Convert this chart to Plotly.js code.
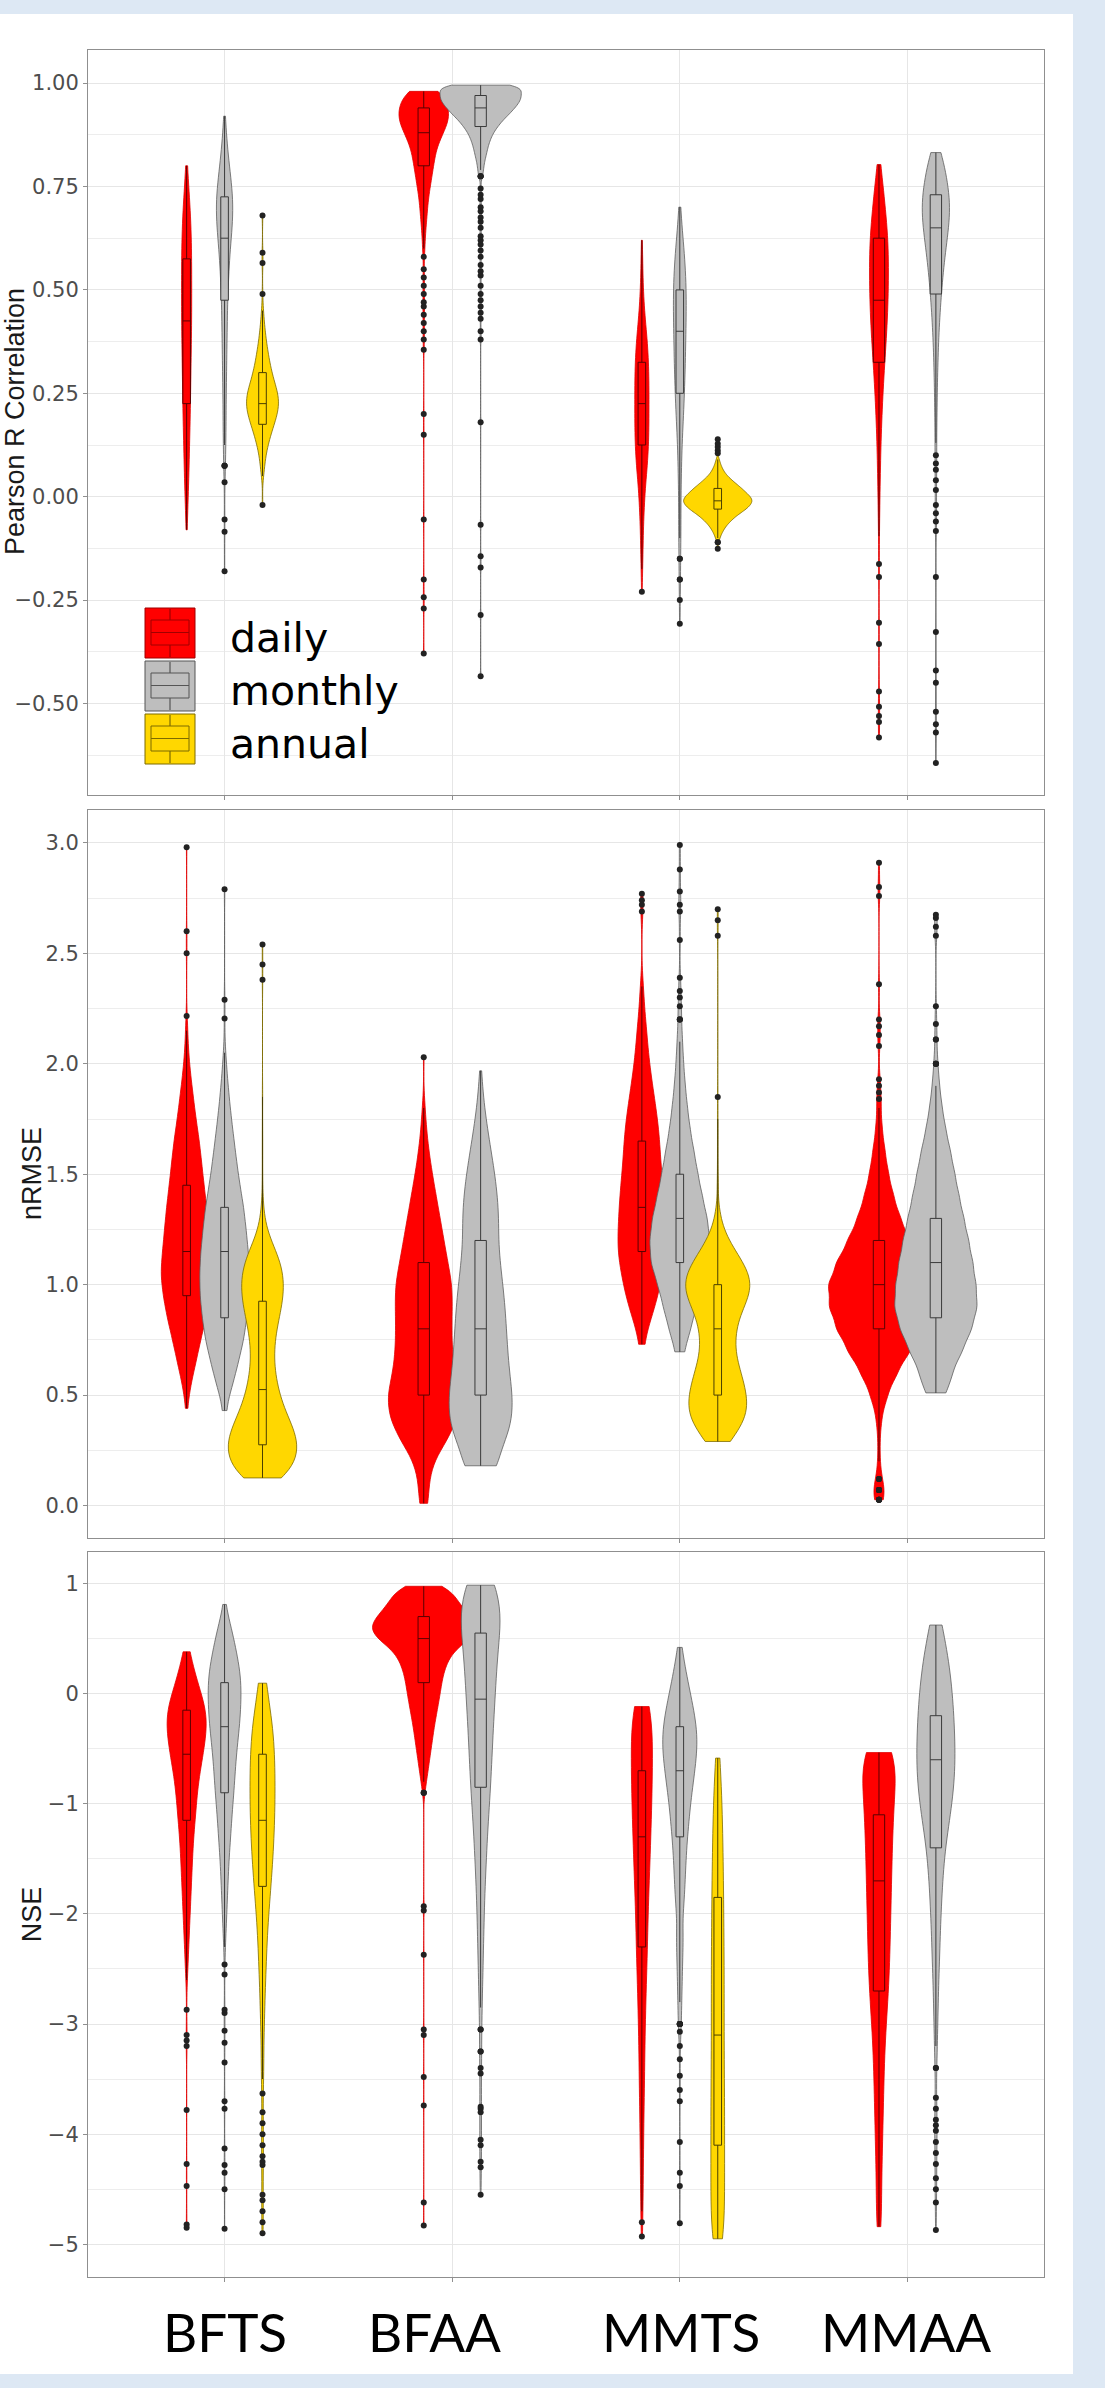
<!DOCTYPE html>
<html>
<head>
<meta charset="utf-8">
<script src="https://cdn.plot.ly/plotly-3.0.1.min.js"></script>
<style>
html,body{margin:0;padding:0;background:#dde8f4;width:1105px;height:2388px;overflow:hidden;}
#chart{position:absolute;left:0;top:14px;width:1073px;height:2360px;}
</style>
</head>
<body>
<div id="chart"></div>
<script>
// ---------------- DATA (bin value + count) ----------------
const categories = ['BFTS', 'BFAA', 'MMTS', 'MMAA'];
const seriesNames = ['daily', 'monthly', 'annual'];
const panelTitles = ['Pearson R Correlation', 'nRMSE', 'NSE'];

// Panel 1: Pearson R correlation
const corr_BFTS_daily_val = [-0.08,-0.025,0.025,0.075,0.125,0.175,0.225,0.275,0.325,0.375,0.425,0.475,0.525,0.575,0.625,0.675,0.725,0.775,0.80];
const corr_BFTS_daily_cnt = [2,4,6,8,9,11,12,13,14,15,16,16,16,16,15,13,9,4,1];
const corr_BFTS_monthly_val = [-0.18,-0.085,-0.055,0.035,0.075,0.125,0.175,0.225,0.275,0.325,0.375,0.425,0.475,0.525,0.575,0.625,0.675,0.725,0.775,0.825,0.875,0.92];
const corr_BFTS_monthly_cnt = [1,1,1,1,3,4,5,5,6,7,8,9,10,13,16,22,28,28,20,12,6,2];
const corr_BFTS_annual_val = [-0.02,0.05,0.075,0.1,0.125,0.15,0.175,0.2,0.225,0.25,0.275,0.3,0.325,0.35,0.375,0.4,0.425,0.45,0.49,0.565,0.59,0.68];
const corr_BFTS_annual_cnt = [1,2,4,6,10,15,21,27,30,28,22,17,13,10,7,5,3,2,1,1,1,1];
const corr_BFAA_daily_val = [-0.379,-0.27,-0.243,-0.2,-0.055,0.15,0.2,0.355,0.38,0.40,0.42,0.44,0.46,0.47,0.49,0.51,0.53,0.55,0.58,0.6,0.62,0.64,0.66,0.68,0.7,0.72,0.74,0.76,0.78,0.8,0.82,0.84,0.86,0.88,0.9,0.92,0.94,0.96,0.98];
const corr_BFAA_daily_cnt = [1,1,1,1,1,1,1,1,1,1,1,1,1,1,1,1,1,1,1,2,2,3,4,5,6,7,9,11,13,15,17,19,24,30,36,40,38,34,28];
const corr_BFAA_monthly_val = [-0.434,-0.286,-0.171,-0.144,-0.068,0.18,0.38,0.40,0.43,0.445,0.46,0.475,0.49,0.51,0.535,0.545,0.56,0.58,0.595,0.61,0.62,0.63,0.65,0.665,0.675,0.69,0.70,0.72,0.73,0.745,0.775,0.79,0.805,0.82,0.835,0.85,0.865,0.88,0.895,0.91,0.925,0.94,0.955,0.97,0.985,0.995];
const corr_BFAA_monthly_cnt = [1,1,1,1,1,1,1,1,1,1,1,1,1,1,1,1,1,1,1,1,1,1,1,1,1,1,1,1,1,1,3,4,5,7,9,11,14,18,24,31,40,48,55,58,52,35];
const corr_MMTS_daily_val = [-0.23,-0.175,-0.125,-0.075,-0.025,0.025,0.075,0.125,0.175,0.225,0.275,0.325,0.375,0.425,0.475,0.525,0.575,0.62];
const corr_MMTS_daily_cnt = [1,2,3,4,6,9,14,17,18,18,18,17,14,9,5,3,2,1];
const corr_MMTS_monthly_val = [-0.307,-0.25,-0.2,-0.15,-0.1,-0.05,0.0,0.05,0.1,0.15,0.2,0.25,0.3,0.35,0.4,0.45,0.5,0.55,0.6,0.65,0.70];
const corr_MMTS_monthly_cnt = [1,1,2,2,3,3,3,4,5,7,10,12,14,15,16,17,17,15,11,6,2];
const corr_MMTS_annual_val = [-0.126,-0.11,-0.1,-0.09,-0.08,-0.07,-0.06,-0.05,-0.04,-0.03,-0.02,-0.01,0.0,0.01,0.02,0.03,0.04,0.05,0.06,0.07,0.08,0.09,0.105,0.112,0.12,0.128,0.139];
const corr_MMTS_annual_cnt = [1,2,4,7,11,16,23,31,41,52,60,64,60,52,44,35,26,18,12,8,5,3,1,1,1,1,1];
const corr_MMAA_daily_val = [-0.582,-0.545,-0.53,-0.508,-0.471,-0.356,-0.305,-0.194,-0.163,-0.095,-0.064,-0.025,0.025,0.075,0.125,0.175,0.225,0.275,0.325,0.375,0.425,0.475,0.525,0.575,0.625,0.675,0.725,0.775,0.803];
const corr_MMAA_daily_cnt = [1,1,1,1,1,1,1,1,1,1,1,2,3,4,5,7,9,12,15,19,22,24,25,25,24,19,14,8,1];
const corr_MMAA_monthly_val = [-0.644,-0.57,-0.55,-0.52,-0.45,-0.42,-0.327,-0.194,-0.083,-0.06,-0.04,-0.02,0.016,0.04,0.065,0.08,0.10,0.13,0.17,0.21,0.25,0.29,0.33,0.37,0.41,0.45,0.49,0.53,0.57,0.61,0.65,0.69,0.73,0.77,0.81,0.832];
const corr_MMAA_monthly_cnt = [1,1,1,1,1,1,1,1,1,1,1,1,1,1,1,1,1,2,2,3,3,4,5,6,8,10,13,16,20,25,30,34,32,26,17,6];

// Panel 2: nRMSE
const nrmse_BFTS_daily_val = [0.44,0.55,0.65,0.75,0.85,0.95,1.05,1.15,1.25,1.35,1.45,1.55,1.65,1.75,1.85,1.95,2.05,2.15,2.216,2.5,2.6,2.98];
const nrmse_BFTS_daily_cnt = [3,13,28,42,58,70,78,72,66,60,52,45,38,28,20,12,6,3,1,1,1,1];
const nrmse_BFTS_monthly_val = [0.43,0.55,0.65,0.75,0.85,0.95,1.05,1.15,1.25,1.35,1.45,1.55,1.65,1.75,1.85,1.95,2.05,2.205,2.29,2.79];
const nrmse_BFTS_monthly_cnt = [6,22,36,50,58,64,65,62,56,50,40,32,25,18,12,7,3,1,1,1];
const nrmse_BFTS_annual_val = [0.125,0.175,0.225,0.275,0.325,0.375,0.425,0.475,0.525,0.575,0.625,0.675,0.725,0.775,0.825,0.875,0.925,0.975,1.025,1.075,1.125,1.175,1.225,1.275,1.325,1.4,1.5,1.6,1.7,1.85,2.38,2.45,2.54];
const nrmse_BFTS_annual_cnt = [55,72,82,84,78,66,54,44,37,32,28,27,28,31,36,42,47,50,50,46,38,26,14,7,4,2,1,1,1,1,1,1,1];
const nrmse_BFAA_daily_val = [0.01,0.1,0.2,0.3,0.4,0.5,0.6,0.7,0.8,0.9,1.0,1.1,1.2,1.3,1.4,1.5,1.6,1.7,1.8,2.03];
const nrmse_BFAA_daily_cnt = [9,10,20,50,72,76,64,59,58,59,59,50,42,34,26,18,11,6,3,1];
const nrmse_BFAA_monthly_val = [0.18,0.3,0.4,0.5,0.6,0.7,0.8,0.9,1.0,1.1,1.2,1.3,1.4,1.5,1.6,1.7,1.8,1.9,1.968];
const nrmse_BFAA_monthly_cnt = [48,60,72,72,65,61,58,55,50,44,40,41,38,32,24,16,9,4,1];
const nrmse_MMTS_daily_val = [0.73,0.85,0.95,1.05,1.15,1.25,1.35,1.45,1.55,1.65,1.75,1.85,1.95,2.05,2.15,2.25,2.35,2.69,2.72,2.74,2.77];
const nrmse_MMTS_daily_cnt = [6,18,30,38,45,44,42,39,35,33,29,23,17,12,9,5,3,1,1,1,1];
const nrmse_MMTS_monthly_val = [0.696,0.8,0.9,1.0,1.1,1.2,1.3,1.4,1.5,1.6,1.7,1.8,1.9,2.0,2.1,2.2,2.26,2.30,2.33,2.39,2.56,2.69,2.72,2.78,2.88,2.99];
const nrmse_MMTS_monthly_cnt = [9,20,30,40,53,55,50,41,33,26,19,14,10,7,5,3,1,1,1,1,1,1,1,1,1,1];
const nrmse_MMTS_annual_val = [0.29,0.35,0.4,0.45,0.5,0.55,0.6,0.65,0.7,0.75,0.8,0.85,0.9,0.95,1.0,1.05,1.1,1.15,1.2,1.25,1.3,1.35,1.45,1.55,1.65,1.75,1.85,2.58,2.65,2.70];
const nrmse_MMTS_annual_cnt = [34,46,55,59,57,52,46,39,35,34,37,42,52,62,67,62,50,36,22,12,6,3,2,1,1,1,1,1,1,1];
const nrmse_MMAA_daily_val = [0.026,0.07,0.12,0.2,0.3,0.4,0.5,0.6,0.7,0.8,0.9,1.0,1.1,1.2,1.3,1.4,1.5,1.6,1.7,1.8,1.84,1.87,1.9,1.93,2.08,2.13,2.17,2.2,2.36,2.76,2.8,2.91];
const nrmse_MMAA_daily_cnt = [5,6,3,2,2,5,15,32,55,75,88,90,75,55,38,26,17,11,6,3,1,1,1,1,1,1,1,1,1,1,1,1];
const nrmse_MMAA_monthly_val = [0.51,0.6,0.7,0.8,0.9,1.0,1.1,1.2,1.3,1.4,1.5,1.6,1.7,1.8,1.9,2.0,2.11,2.18,2.26,2.58,2.62,2.66,2.675];
const nrmse_MMAA_monthly_cnt = [18,30,50,68,79,76,70,62,53,44,36,28,19,12,7,4,2,1,1,1,1,1,1];

// Panel 3: NSE
const nse_BFTS_daily_val = [-4.85,-4.82,-4.47,-4.27,-3.78,-3.2,-3.15,-3.1,-2.87,-2.6,-2.55,-2.45,-2.35,-2.25,-2.15,-2.05,-1.95,-1.85,-1.75,-1.65,-1.55,-1.45,-1.35,-1.25,-1.15,-1.05,-0.95,-0.85,-0.75,-0.65,-0.55,-0.45,-0.35,-0.25,-0.15,-0.05,0.05,0.15,0.25,0.38];
const nse_BFTS_daily_cnt = [1,1,1,1,1,1,1,1,1,1,2,3,4,5,6,7,8,9,10,11,12,13,14,16,18,20,22,23,27,31,35,39,42,44,43,35,27,20,15,10];
const nse_BFTS_monthly_val = [-4.86,-4.5,-4.35,-4.28,-4.13,-3.77,-3.7,-3.35,-3.17,-3.06,-2.9,-2.87,-2.55,-2.46,-2.3,-2.2,-2.1,-2.0,-1.9,-1.8,-1.7,-1.6,-1.5,-1.4,-1.3,-1.2,-1.1,-1.0,-0.9,-0.8,-0.7,-0.6,-0.5,-0.4,-0.3,-0.2,-0.1,0.0,0.1,0.2,0.3,0.4,0.5,0.6,0.7,0.81];
const nse_BFTS_monthly_cnt = [1,1,1,1,1,1,1,1,1,1,1,1,1,1,2,3,4,5,6,7,8,9,10,12,14,15,17,19,21,23,24,26,28,31,34,36,37,38,38,36,31,26,21,16,8,2];
const nse_BFTS_annual_val = [-4.9,-4.8,-4.7,-4.6,-4.55,-4.28,-4.25,-4.2,-4.1,-4.0,-3.9,-3.8,-3.63,-3.5,-3.35,-3.15,-2.95,-2.75,-2.55,-2.35,-2.15,-1.95,-1.75,-1.55,-1.35,-1.15,-0.95,-0.75,-0.55,-0.35,-0.15,0.095];
const nse_BFTS_annual_cnt = [1,1,1,1,1,1,1,1,1,1,1,1,1,2,3,3,5,6,8,10,12,16,20,24,27,29,30,30,29,26,20,13];
const nse_BFAA_daily_val = [-4.83,-4.62,-3.74,-3.48,-3.1,-3.05,-2.37,-1.97,-1.93,-0.9,-0.8,-0.7,-0.6,-0.5,-0.4,-0.3,-0.2,-0.1,0.0,0.1,0.2,0.3,0.4,0.5,0.6,0.7,0.8,0.9,0.975];
const nse_BFAA_daily_cnt = [1,1,1,1,1,1,1,1,1,3,7,11,15,19,23,27,32,37,42,46,52,62,80,120,140,120,95,75,35];
const nse_BFAA_monthly_val = [-4.55,-4.3,-4.25,-4.1,-4.05,-3.8,-3.77,-3.75,-3.45,-3.4,-3.25,-3.05,-2.85,-2.65,-2.45,-2.25,-2.05,-1.85,-1.65,-1.45,-1.25,-1.05,-0.85,-0.65,-0.45,-0.25,-0.05,0.15,0.35,0.55,0.75,0.985];
const nse_BFAA_monthly_cnt = [1,1,1,1,1,1,1,1,1,1,2,2,3,4,5,6,7,8,10,12,14,17,20,22,24,26,29,31,34,38,46,42];
const nse_MMTS_daily_val = [-4.93,-4.8,-4.7,-4.5,-4.3,-4.1,-3.9,-3.7,-3.5,-3.3,-3.1,-2.9,-2.7,-2.5,-2.3,-2.1,-1.9,-1.7,-1.5,-1.3,-1.1,-0.9,-0.7,-0.5,-0.3,-0.117];
const nse_MMTS_daily_cnt = [1,1,2,3,3,4,4,5,6,6,7,8,9,11,12,13,14,16,18,19,21,22,23,23,23,22];
const nse_MMTS_monthly_val = [-4.81,-4.47,-4.35,-4.07,-3.7,-3.6,-3.47,-3.32,-3.2,-3.07,-3.0,-2.8,-2.6,-2.4,-2.2,-2.0,-1.9,-1.8,-1.7,-1.6,-1.5,-1.4,-1.3,-1.2,-1.1,-1.0,-0.9,-0.8,-0.7,-0.6,-0.5,-0.4,-0.3,-0.2,-0.1,0.0,0.1,0.2,0.3,0.42];
const nse_MMTS_monthly_cnt = [1,1,1,1,1,1,1,1,1,1,6,8,10,12,15,8,9,10,11,12,13,14,16,18,20,22,25,28,31,34,36,37,35,31,27,22,17,13,9,6];
const nse_MMTS_annual_val = [-4.95,-4.85,-4.6,-4.35,-4.1,-3.85,-3.6,-3.35,-3.1,-2.85,-2.6,-2.35,-2.1,-1.85,-1.6,-1.35,-1.1,-0.85,-0.585];
const nse_MMTS_annual_cnt = [8,14,16,16,16,16,16,15,15,15,15,15,14,14,13,12,11,9,6];
const nse_MMAA_daily_val = [-4.84,-4.7,-4.5,-4.3,-4.1,-3.9,-3.7,-3.5,-3.3,-3.1,-2.9,-2.7,-2.5,-2.3,-2.1,-1.9,-1.7,-1.5,-1.3,-1.1,-0.9,-0.7,-0.535];
const nse_MMAA_daily_cnt = [4,5,5,6,7,8,9,10,11,13,16,19,21,22,23,24,25,26,27,29,31,33,34];
const nse_MMAA_monthly_val = [-4.87,-4.62,-4.5,-4.4,-4.27,-4.17,-4.07,-3.97,-3.92,-3.87,-3.77,-3.67,-3.4,-3.2,-3.0,-2.8,-2.6,-2.4,-2.2,-2.0,-1.8,-1.6,-1.4,-1.2,-1.0,-0.8,-0.6,-0.4,-0.2,0.0,0.2,0.4,0.623];
const nse_MMAA_monthly_cnt = [1,1,1,1,1,1,1,1,1,1,1,1,2,3,4,5,6,8,9,11,13,16,20,27,34,39,41,40,38,35,30,24,16];

// ---------------- TABLE built from the named arrays ----------------
const panelData = [
  {
    BFTS: {daily: [corr_BFTS_daily_val, corr_BFTS_daily_cnt], monthly: [corr_BFTS_monthly_val, corr_BFTS_monthly_cnt], annual: [corr_BFTS_annual_val, corr_BFTS_annual_cnt]},
    BFAA: {daily: [corr_BFAA_daily_val, corr_BFAA_daily_cnt], monthly: [corr_BFAA_monthly_val, corr_BFAA_monthly_cnt]},
    MMTS: {daily: [corr_MMTS_daily_val, corr_MMTS_daily_cnt], monthly: [corr_MMTS_monthly_val, corr_MMTS_monthly_cnt], annual: [corr_MMTS_annual_val, corr_MMTS_annual_cnt]},
    MMAA: {daily: [corr_MMAA_daily_val, corr_MMAA_daily_cnt], monthly: [corr_MMAA_monthly_val, corr_MMAA_monthly_cnt]}
  },
  {
    BFTS: {daily: [nrmse_BFTS_daily_val, nrmse_BFTS_daily_cnt], monthly: [nrmse_BFTS_monthly_val, nrmse_BFTS_monthly_cnt], annual: [nrmse_BFTS_annual_val, nrmse_BFTS_annual_cnt]},
    BFAA: {daily: [nrmse_BFAA_daily_val, nrmse_BFAA_daily_cnt], monthly: [nrmse_BFAA_monthly_val, nrmse_BFAA_monthly_cnt]},
    MMTS: {daily: [nrmse_MMTS_daily_val, nrmse_MMTS_daily_cnt], monthly: [nrmse_MMTS_monthly_val, nrmse_MMTS_monthly_cnt], annual: [nrmse_MMTS_annual_val, nrmse_MMTS_annual_cnt]},
    MMAA: {daily: [nrmse_MMAA_daily_val, nrmse_MMAA_daily_cnt], monthly: [nrmse_MMAA_monthly_val, nrmse_MMAA_monthly_cnt]}
  },
  {
    BFTS: {daily: [nse_BFTS_daily_val, nse_BFTS_daily_cnt], monthly: [nse_BFTS_monthly_val, nse_BFTS_monthly_cnt], annual: [nse_BFTS_annual_val, nse_BFTS_annual_cnt]},
    BFAA: {daily: [nse_BFAA_daily_val, nse_BFAA_daily_cnt], monthly: [nse_BFAA_monthly_val, nse_BFAA_monthly_cnt]},
    MMTS: {daily: [nse_MMTS_daily_val, nse_MMTS_daily_cnt], monthly: [nse_MMTS_monthly_val, nse_MMTS_monthly_cnt], annual: [nse_MMTS_annual_val, nse_MMTS_annual_cnt]},
    MMAA: {daily: [nse_MMAA_daily_val, nse_MMAA_daily_cnt], monthly: [nse_MMAA_monthly_val, nse_MMAA_monthly_cnt]}
  }
];

// ---------------- STYLE ----------------
const style = {
  daily:   {fill: '#ff0000', vline: '#e00000', bline: '#5a0000', key: '#a00000'},
  monthly: {fill: '#bebebe', vline: '#5e5e5e', bline: '#3a3a3a', key: '#555555'},
  annual:  {fill: '#ffd700', vline: '#7d6b00', bline: '#4a3f00', key: '#7d6b00'}
};

function expand(vals, cnts) {
  const out = [];
  vals.forEach((v, i) => { for (let j = 0; j < cnts[i]; j++) out.push(v); });
  return out;
}
function q(sorted, p) {
  const h = (sorted.length - 1) * p, lo = Math.floor(h), hi = Math.ceil(h);
  return sorted[lo] + (sorted[hi] - sorted[lo]) * (h - lo);
}
function nrd0(arr) {
  const s = arr.slice().sort((a, b) => a - b);
  const n = s.length;
  const mean = s.reduce((a, b) => a + b, 0) / n;
  const sd = Math.sqrt(s.reduce((a, b) => a + (b - mean) * (b - mean), 0) / (n - 1));
  const iqr = q(s, 0.75) - q(s, 0.25);
  return 0.9 * Math.min(sd, iqr / 1.34) * Math.pow(n, -0.2);
}
// peak of the gaussian KDE (same estimator the violin trace uses), from the value/count table
function peakKDE(vals, cnts, bw) {
  const n = cnts.reduce((a, b) => a + b, 0);
  const lo = Math.min(...vals), hi = Math.max(...vals);
  const steps = Math.max(1, Math.ceil((hi - lo) / (bw / 3)));
  let best = 0;
  for (let k = 0; k <= steps; k++) {
    const t = lo + (hi - lo) * k / steps;
    let sum = 0;
    for (let i = 0; i < vals.length; i++) {
      const z = (t - vals[i]) / bw;
      sum += cnts[i] * Math.exp(-0.5 * z * z);
    }
    best = Math.max(best, sum / (n * bw * Math.sqrt(2 * Math.PI)));
  }
  return best;
}

const violinTraces = [], boxTraces = [];
panelData.forEach((pd, p) => {
  const xa = p === 0 ? 'x' : 'x' + (p + 1);
  const ya = p === 0 ? 'y' : 'y' + (p + 1);
  const items = [];
  categories.forEach((cat, c) => {
    const present = seriesNames.filter(s => pd[cat][s]);
    const k = present.length;
    present.forEach((s, i) => {
      const [vals, cnts] = pd[cat][s];
      const samples = expand(vals, cnts);
      const bw = 0.7 * nrd0(samples);
      items.push({s, k, pos: (c + 1) + (i - (k - 1) / 2) * (0.5 / k), samples, bw, peak: peakKDE(vals, cnts, bw)});
    });
  });
  // equal-area scaling inside each panel (as in the source figure)
  const panelPeak = Math.max(...items.map(it => it.peak));
  items.forEach(it => {
    const st = style[it.s];
    violinTraces.push({
      type: 'violin', name: it.s, x0: it.pos, y: it.samples, xaxis: xa, yaxis: ya,
      width: (0.9 / it.k) * it.peak / panelPeak,
      fillcolor: st.fill, line: {color: st.vline, width: 0.8},
      points: false, box: {visible: false}, meanline: {visible: false},
      spanmode: 'hard', bandwidth: it.bw,
      hoverinfo: 'skip', showlegend: false
    });
    boxTraces.push({
      type: 'box', name: it.s, x0: it.pos, y: it.samples, xaxis: xa, yaxis: ya,
      width: 0.1 / it.k, boxpoints: 'outliers', jitter: 0, pointpos: 0, whiskerwidth: 0,
      fillcolor: st.fill, line: {color: st.bline, width: 1},
      marker: {color: '#222222', size: 6, line: {width: 0}},
      hoverinfo: 'skip', showlegend: false
    });
  });
});

// ---------------- LAYOUT ----------------
const W = 1073, H = 2360;
const M = {l: 88, r: 29, t: 36, b: 97};
const plotW = W - M.l - M.r, plotH = H - M.t - M.b, plotBottom = H - M.b;
const px2x = px => (px - M.l) / plotW;
const px2y = py => (plotBottom - py) / plotH;
const dom = (top, bot) => [Math.max(0, px2y(bot)), Math.min(1, px2y(top))];
const domains = [dom(36, 780.5), dom(796, 1524), dom(1537.6, 2263)];
const yRanges = [[-0.72, 1.08], [-0.147, 3.149], [-5.297, 1.29]];
const yTicks = [{dtick: 0.25, minor: 0.125, fmt: '.2f'}, {dtick: 0.5, minor: 0.25, fmt: '.1f'}, {dtick: 1, minor: 0.5, fmt: 'd'}];
const gridCol = '#e6e6e6', borderCol = '#8f8f8f';

const layout = {
  width: W, height: H, margin: M,
  paper_bgcolor: '#ffffff', plot_bgcolor: '#ffffff',
  showlegend: false, violinmode: 'overlay', boxmode: 'overlay',
  font: {family: 'DejaVu Sans', color: '#4d4d4d'},
  shapes: [], annotations: []
};
for (let p = 0; p < 3; p++) {
  const sx = p === 0 ? '' : String(p + 1);
  layout['xaxis' + sx] = {
    type: 'linear', range: [0.4, 4.6], domain: [0, 1], anchor: 'y' + sx,
    tickmode: 'array', tickvals: [1, 2, 3, 4], showticklabels: false,
    ticks: 'outside', ticklen: 4, tickcolor: '#8f8f8f', tickwidth: 1,
    showgrid: true, gridcolor: gridCol, gridwidth: 1, zeroline: false,
    showline: true, mirror: true, linecolor: borderCol, linewidth: 1, fixedrange: true
  };
  layout['yaxis' + sx] = {
    type: 'linear', range: yRanges[p], domain: domains[p], anchor: 'x' + sx,
    tickmode: 'linear', tick0: 0, dtick: yTicks[p].dtick, tickformat: yTicks[p].fmt,
    ticks: 'outside', ticklen: 4, tickcolor: '#8f8f8f', tickwidth: 1,
    tickfont: {family: 'DejaVu Sans', size: 21, color: '#4d4d4d'},
    showgrid: true, gridcolor: gridCol, gridwidth: 1, zeroline: false,
    minor: {tick0: 0, dtick: yTicks[p].minor, showgrid: true, gridcolor: '#ededed', gridwidth: 1},
    showline: true, mirror: true, linecolor: borderCol, linewidth: 1, fixedrange: true
  };
}

// y-axis titles
const titleX = [15, 32, 32];
const panelMid = [408, 1160, 1900.3];
panelTitles.forEach((t, p) => {
  layout.annotations.push({
    text: t, xref: 'paper', yref: 'paper', x: px2x(titleX[p]), y: px2y(panelMid[p]),
    xanchor: 'center', yanchor: 'middle', textangle: -90, showarrow: false,
    font: {family: 'Liberation Sans', size: 27, color: '#1a1a1a'}
  });
});

// category labels below the bottom panel
const catLabelX = [225, 434, 681, 906];
categories.forEach((c, i) => {
  layout.annotations.push({
    text: c, xref: 'paper', yref: 'paper', x: px2x(catLabelX[i]), y: px2y(2317),
    xanchor: 'center', yanchor: 'middle', showarrow: false,
    font: {family: 'Lato', size: 53, color: '#000000'}
  });
});

// legend (inside the top panel)
seriesNames.forEach((s, i) => {
  const top = 594 + i * 53, bot = top + 50, x0 = 145, x1 = 195, cx = 170;
  const st = style[s];
  const R = (a, b, c, d, fill, col) => ({type: 'rect', xref: 'paper', yref: 'paper', x0: px2x(a), x1: px2x(c), y0: px2y(b), y1: px2y(d), fillcolor: fill, line: {color: col, width: 1}, layer: 'above'});
  const L = (a, b, c, d, col) => ({type: 'line', xref: 'paper', yref: 'paper', x0: px2x(a), x1: px2x(c), y0: px2y(b), y1: px2y(d), line: {color: col, width: 1.2}, layer: 'above'});
  layout.shapes.push(R(x0, top, x1, bot, st.fill, st.key));
  layout.shapes.push(R(x0 + 6, top + 12, x1 - 6, top + 37, st.fill, st.key));
  layout.shapes.push(L(x0 + 6, top + 24.5, x1 - 6, top + 24.5, st.key));
  layout.shapes.push(L(cx, top + 1, cx, top + 12, st.key));
  layout.shapes.push(L(cx, top + 37, cx, bot - 1, st.key));
  layout.annotations.push({
    text: s, xref: 'paper', yref: 'paper', x: px2x(228), y: px2y(top + 25 + 5),
    xanchor: 'left', yanchor: 'middle', showarrow: false,
    font: {family: 'DejaVu Sans', size: 41, color: '#000000'}
  });
});

Plotly.newPlot('chart', violinTraces.concat(boxTraces), layout, {staticPlot: true, displayModeBar: false});
</script>
</body>
</html>
